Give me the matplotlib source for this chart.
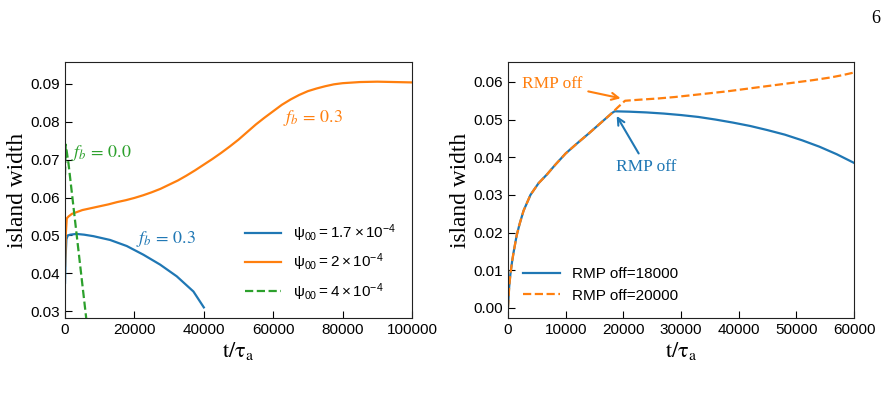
import numpy as np
import matplotlib.pyplot as plt

plt.rcParams['font.family'] = ['Liberation Sans', 'DejaVu Sans']
plt.rcParams['mathtext.fontset'] = 'custom'
plt.rcParams['mathtext.rm'] = 'Liberation Sans'
plt.rcParams['mathtext.it'] = 'Liberation Sans:italic'

# Panel izquierdo: ancho de isla para distintos psi00
t_a = [0, 150, 400, 800, 1500, 3300, 5500, 8200, 13000, 17800, 22600, 27400, 32200, 37000, 40000]
w_a = [0.0375, 0.044, 0.0490, 0.0500, 0.0502, 0.0504, 0.0502, 0.0498, 0.0488, 0.0472, 0.0449,
       0.0423, 0.0392, 0.0352, 0.0310]

t_b = [0, 200, 500, 1000, 2000, 5000, 7500, 10000, 12500, 15000, 17500, 20000, 22500, 25000,
       27500, 30000, 32500, 35000, 37500, 40000, 42500, 45000, 47500, 50000, 52500, 55000, 57500,
       60000, 62500, 65000, 67500, 70000, 72500, 75000, 77500, 80000, 85000, 90000, 95000, 100000]
w_b = [0.042, 0.050, 0.0545, 0.0550, 0.0557, 0.0567, 0.0572, 0.0577, 0.0582, 0.0588, 0.0593,
       0.0599, 0.0606, 0.0614, 0.0623, 0.0634, 0.0645, 0.0658, 0.0672, 0.0687, 0.0702, 0.0718,
       0.0735, 0.0753, 0.0773, 0.0793, 0.0811, 0.0828, 0.0845, 0.0859, 0.0871, 0.0881, 0.0888,
       0.0894, 0.0899, 0.0902, 0.0905, 0.0906, 0.0905, 0.0904]

t_c = [0, 200, 1000, 2000, 3000, 4000, 5000, 6000, 6500]
w_c = [0.066, 0.0740, 0.0690, 0.0610, 0.0530, 0.0450, 0.0370, 0.0290, 0.0250]

etiquetas_izq = [r'$\mathrm{\psi_{00} = 1.7\times10^{-4}}$',
                 r'$\mathrm{\psi_{00} = 2\times10^{-4}}$',
                 r'$\mathrm{\psi_{00} = 4\times10^{-4}}$']

# Panel derecho: apagado de RMP
t_com = [0, 200, 400, 700, 1000, 1500, 2000, 2700, 3900, 5300, 6800, 8200, 10000, 12000, 14000,
         16000, 18000]
w_com = [0.0, 0.0055, 0.0087, 0.0122, 0.0150, 0.0192, 0.0222, 0.0258, 0.0300, 0.0331, 0.0355,
         0.0380, 0.0410, 0.0437, 0.0463, 0.0490, 0.0517]

t_18 = [18500, 21000, 24000, 27000, 30000, 33000, 36000, 39000, 42000, 45000, 48000, 51000,
        54000, 57000, 60000]
w_18 = [0.0522, 0.0521, 0.0519, 0.0516, 0.0512, 0.0507, 0.0500, 0.0492, 0.0483, 0.0472, 0.0460,
        0.0445, 0.0428, 0.0408, 0.0385]

t_20 = [19000, 20000, 20300, 23000, 26000, 29000, 32000, 35000, 38000, 41000, 44000, 47000,
        50000, 53000, 56000, 58000, 60000]
w_20 = [0.0532, 0.0546, 0.0550, 0.0553, 0.0556, 0.0560, 0.0565, 0.0570, 0.0575, 0.0581, 0.0587,
        0.0593, 0.0599, 0.0605, 0.0612, 0.0618, 0.0625]

etiquetas_der = ['RMP off=18000', 'RMP off=20000']

azul, naranja, verde = '#1f77b4', '#ff7f0e', '#2ca02c'

fig = plt.figure(figsize=(8.92, 4.08), dpi=100)
ax1 = fig.add_axes([0.0729, 0.2206, 0.389, 0.6275])
ax2 = fig.add_axes([0.5695, 0.2206, 0.3879, 0.6275])

ax1.plot(t_a, w_a, color=azul, lw=1.6, label=etiquetas_izq[0])
ax1.plot(t_b, w_b, color=naranja, lw=1.6, label=etiquetas_izq[1])
ax1.plot(t_c, w_c, color=verde, lw=1.6, ls='--', label=etiquetas_izq[2])
ax1.set_xlim(0, 100000)
ax1.set_ylim(0.0282, 0.0958)
ax1.set_xticks([0, 20000, 40000, 60000, 80000, 100000])
ax1.set_yticks([0.03, 0.04, 0.05, 0.06, 0.07, 0.08, 0.09])
ax1.text(62800, 0.0809, r'$f_b\,=\,0.3$', color=naranja, fontsize=13, va='center', math_fontfamily='stix')
ax1.text(1800, 0.0718, r'$f_b\,=\,0.0$', color=verde, fontsize=13, va='center', math_fontfamily='stix')
ax1.text(20400, 0.0491, r'$f_b\,=\,0.3$', color=azul, fontsize=13, va='center', math_fontfamily='stix')
ax1.legend(loc='lower right', frameon=False, fontsize=11, handlelength=2.4, borderaxespad=0.6)

ax2.plot(t_com + t_18, w_com + w_18, color=azul, lw=1.6, label=etiquetas_der[0])
ax2.plot(t_com + t_20, w_com + w_20, color=naranja, lw=1.6, ls='--', label=etiquetas_der[1])
ax2.set_xlim(0, 60000)
ax2.set_ylim(-0.0027, 0.0653)
ax2.set_xticks([0, 10000, 20000, 30000, 40000, 50000, 60000])
ax2.set_yticks([0.0, 0.01, 0.02, 0.03, 0.04, 0.05, 0.06])
ax2.annotate('RMP off', xy=(20000, 0.0555), xytext=(2500, 0.0595), color=naranja,
             fontsize=12.5, family='Liberation Serif', va='center',
             arrowprops=dict(arrowstyle='->', color=naranja, lw=1.5))
ax2.annotate('RMP off', xy=(18600, 0.0516), xytext=(24000, 0.0375), color=azul,
             fontsize=12.5, family='Liberation Serif', va='center', ha='center',
             arrowprops=dict(arrowstyle='->', color=azul, lw=1.5))
ax2.legend(loc='lower left', frameon=False, fontsize=11, handlelength=2.4, borderaxespad=0.6)

for ax in (ax1, ax2):
    ax.tick_params(direction='in', length=5, labelsize=11)
    ax.set_xlabel(r'$\mathrm{t/\tau_a}$', fontsize=16, math_fontfamily='stix', labelpad=2)
    ax.set_ylabel('island width', fontsize=16.8, family='Liberation Serif', labelpad=2)
    for s in ax.spines.values():
        s.set_color('#222222')

fig.text(0.987, 0.955, '6', fontsize=13, family='Liberation Serif', ha='right', va='center')

fig.savefig('out.png', dpi=100)
